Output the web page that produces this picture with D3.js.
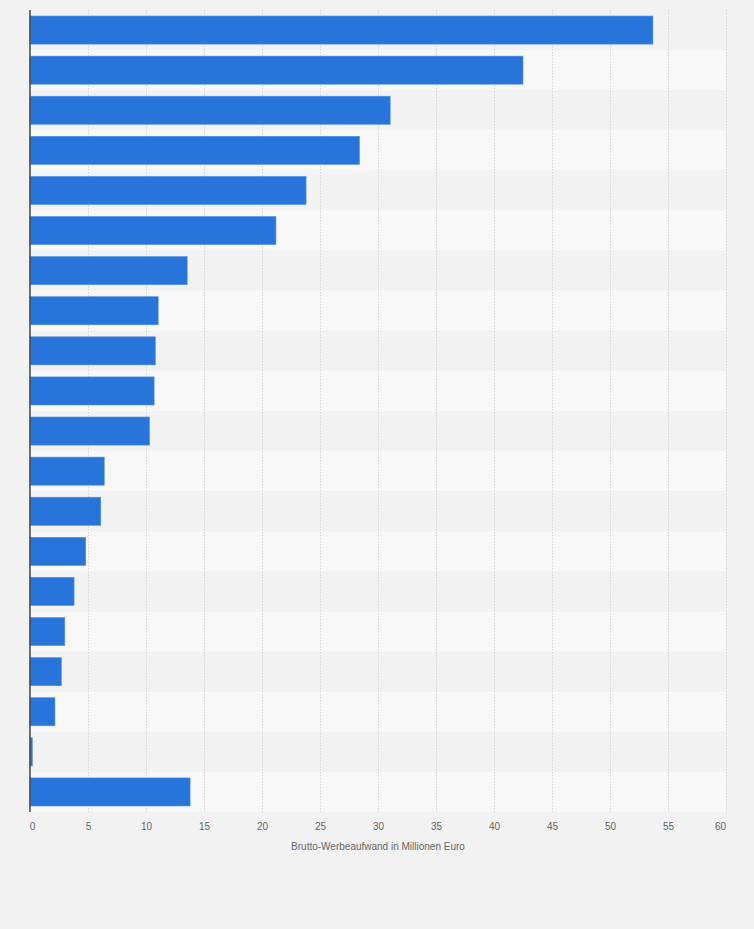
<!DOCTYPE html>
<html>
<head>
<meta charset="utf-8">
<script src="https://d3js.org/d3.v7.min.js"></script>
<style>
  html, body { margin: 0; padding: 0; background: #f2f2f2; }
  svg text { font-family: "Liberation Sans", Arial, sans-serif; }
</style>
</head>
<body>
<div id="chart"></div>
<script>
// values, top to bottom (no category labels shown)
var rows = ["r1","r2","r3","r4","r5","r6","r7","r8","r9","r10",
            "r11","r12","r13","r14","r15","r16","r17","r18","r19","r20"];
var values = [53.7, 42.5, 31.05, 28.4, 23.8, 21.2, 13.55, 11.05, 10.8, 10.7,
              10.3, 6.4, 6.1, 4.8, 3.8, 3.0, 2.7, 2.15, 0.2, 13.8];
var ticks = [0, 5, 10, 15, 20, 25, 30, 35, 40, 45, 50, 55, 60];
var axisTitle = "Brutto-Werbeaufwand in Millionen Euro";

var W = 754, H = 929;
var plotLeft = 30, plotRight = 726, plotTop = 10, plotBottom = 812;

var svg = d3.select("#chart").append("svg")
    .attr("width", W)
    .attr("height", H);

svg.append("rect").attr("width", W).attr("height", H).attr("fill", "#f2f2f2");

var x = d3.scaleLinear().domain([0, 60]).range([plotLeft, plotRight]);
var y = d3.scaleBand().domain(rows).range([plotTop, plotBottom]).paddingInner(0.3).paddingOuter(0.15);
var band = d3.scaleBand().domain(rows).range([plotTop, plotBottom]);

// alternating row bands
svg.append("g").selectAll("rect")
    .data(rows)
    .join("rect")
    .attr("x", plotLeft)
    .attr("y", function (d) { return band(d); })
    .attr("width", plotRight - plotLeft)
    .attr("height", band.bandwidth())
    .attr("fill", function (d, i) { return i % 2 ? "#f8f8f8" : "#f2f2f2"; });

// grid lines
svg.append("g").selectAll("line")
    .data(ticks.filter(function (t) { return t > 0; }))
    .join("line")
    .attr("x1", function (d) { return x(d) + 0.5; })
    .attr("x2", function (d) { return x(d) + 0.5; })
    .attr("y1", plotTop)
    .attr("y2", plotBottom)
    .attr("stroke", "#d6d6d6")
    .attr("stroke-width", 1)
    .attr("stroke-dasharray", "1.5,1.5");

// bars
svg.append("g").selectAll("rect")
    .data(values)
    .join("rect")
    .attr("x", x(0))
    .attr("y", function (d, i) { return y(rows[i]); })
    .attr("width", function (d) { return x(d) - x(0); })
    .attr("height", y.bandwidth())
    .attr("fill", "#2775db")
    .attr("stroke", "#4f8fe6")
    .attr("stroke-width", 0.6);

// value axis
var axis = svg.append("g")
    .attr("transform", "translate(0," + plotBottom + ")")
    .call(d3.axisBottom(x).tickValues(ticks).tickSize(0).tickPadding(11));
axis.select(".domain").remove();
axis.selectAll("text")
    .attr("fill", "#666")
    .style("font-size", "10px")
    .attr("dx", function (d) { return d === 0 ? 2 : (d === 60 ? -6 : 0); });

// baseline
svg.append("line")
    .attr("x1", plotLeft).attr("x2", plotLeft)
    .attr("y1", plotTop).attr("y2", plotBottom)
    .attr("stroke", "#444")
    .attr("stroke-width", 1.5);

svg.append("text")
    .attr("x", (plotLeft + plotRight) / 2)
    .attr("y", 850)
    .attr("text-anchor", "middle")
    .attr("fill", "#666")
    .style("font-size", "10px")
    .text(axisTitle);
</script>
</body>
</html>
